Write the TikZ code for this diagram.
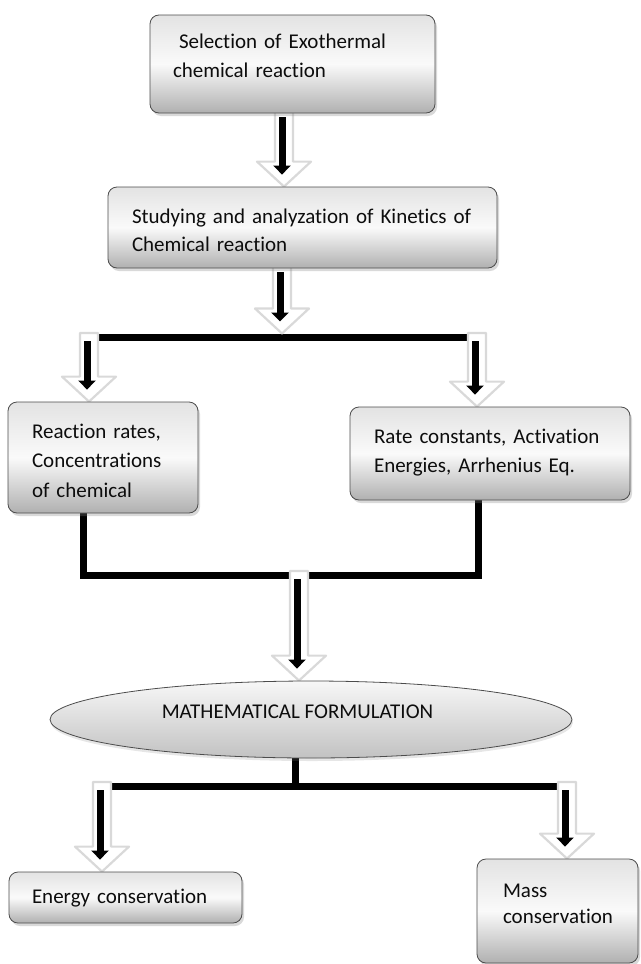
\documentclass[tikz,border=0pt]{standalone}
\usepackage{fontspec}
\setmainfont[Ligatures=NoCommon]{Carlito}
\usetikzlibrary{arrows.meta,shapes.geometric,shadows,calc,backgrounds}
\newcommand\hollowarrow[2]{%
  \path[hollowhead] let \p1=(#1), \p2=(#2) in
    (\x1-7pt,\y1+4pt) -- (\x1-7pt,\y2+25pt) -- (\x1-25pt,\y2+25pt) -- (\x1+2pt,\y2)
    -- (\x1+29pt,\y2+25pt) -- (\x1+11pt,\y2+25pt) -- (\x1+11pt,\y1+4pt) -- cycle;
  \draw[blackarrow] let \p1=(#1), \p2=(#2) in (\x1,\y1-4pt) -- (\x1,\y2+12pt);
}
\begin{document}
\begin{tikzpicture}[x=1pt,y=-1pt,
  flowbox/.style={rectangle, rounded corners=9pt, draw=gray!60!black, line width=0.8pt,
    top color=gray!22, bottom color=gray!62, middle color=gray!4,
    drop shadow={opacity=0.3,shadow xshift=2pt,shadow yshift=-3pt},
    align=left, inner ysep=0pt, text=black!95},
  oval/.style={ellipse, draw=gray!60!black, line width=0.8pt,
    top color=gray!6, bottom color=gray!48,
    drop shadow={opacity=0.2,shadow xshift=1pt,shadow yshift=-3pt},
    inner sep=0pt, text=black!95, font=\fontsize{21}{25}\selectfont},
  bar/.style={line width=7pt, black, line join=miter},
  hollowhead/.style={fill=white, draw=gray!30, line width=2.2pt, line join=round},
  blackarrow/.style={line width=7pt, black, -{Triangle[length=9pt,width=17pt]}}
]
\useasboundingbox (0,0) rectangle (640,964);

\node[flowbox, font=\fontsize{21}{29}\selectfont, minimum width=285pt, minimum height=98pt,
  text width=239pt, inner xsep=23pt, text height=33pt, text depth=65pt]
  (b1) at (292.5,64) {\hspace*{6pt}Selection of Exothermal\\chemical reaction};

\node[flowbox, font=\fontsize{21}{28}\selectfont, minimum width=389pt, minimum height=81pt,
  text width=341pt, inner xsep=24pt, text height=36pt, text depth=45pt]
  (b2) at (302.5,227.5) {\mbox{Studying and analyzation of Kinetics of}\\Chemical reaction};

\node[flowbox, font=\fontsize{21}{29.5}\selectfont, minimum width=190pt, minimum height=111pt,
  text width=142pt, inner xsep=24pt, text height=36pt, text depth=75pt]
  (b3) at (103,457.5) {\mbox{Reaction rates,}\\\mbox{Concentrations}\\\mbox{of chemical}};

\node[flowbox, font=\fontsize{21}{29}\selectfont, minimum width=280pt, minimum height=93pt,
  text width=232pt, inner xsep=24pt, text height=36pt, text depth=57pt]
  (b4) at (490,453.5) {\mbox{Rate constants, Activation}\\\mbox{Energies, Arrhenius Eq.}};

\node[oval, minimum width=522pt, minimum height=77pt, text height=10pt, text depth=13pt]
  (e) at (311,719.5) {MATHEMATICAL FORMULATION\hspace*{27pt}};

\node[flowbox, font=\fontsize{21}{29}\selectfont, minimum width=233pt, minimum height=51pt,
  text width=187pt, inner xsep=23pt, text height=31pt, text depth=20pt]
  (b5) at (125.5,897.5) {\mbox{Energy conservation}};

\node[flowbox, font=\fontsize{21}{26}\selectfont, minimum width=161pt, minimum height=104pt,
  text width=109pt, inner xsep=26pt, text height=38pt, text depth=66pt]
  (b6) at (557.5,911) {Mass\\\mbox{conservation}};

\begin{scope}[on background layer]
  \coordinate (a1) at ($(b1.south)+(-10.5,0)$);
  \coordinate (a2) at ($(b2.south)+(-22.5,0)$);
  \coordinate (tc) at (280,333.5);
  \coordinate (tl) at (87,337);
  \coordinate (tr) at (475,337);
  \coordinate (ml) at (83,575);
  \coordinate (mr) at (478,575);
  \coordinate (mc) at (297,575);
  \coordinate (bc) at (295,786);
  \coordinate (bl) at (100,786);
  \coordinate (br) at (565,786);

  \draw[bar] (tl) -- (tr);
  \draw[bar] (b3.south -| ml) -- (ml) -- (mr) -- (b4.south -| mr);
  \draw[bar] (e.south -| bc) -- (bc);
  \draw[bar] (bl) -- (br);

  \hollowarrow{a1}{b2.north}
  \hollowarrow{a2}{tc}
  \hollowarrow{tl}{b3.north}
  \hollowarrow{tr}{b4.north}
  \hollowarrow{mc}{e.north}
  \hollowarrow{bl}{b5.north}
  \hollowarrow{br}{b6.north}
\end{scope}
\end{tikzpicture}
\end{document}
